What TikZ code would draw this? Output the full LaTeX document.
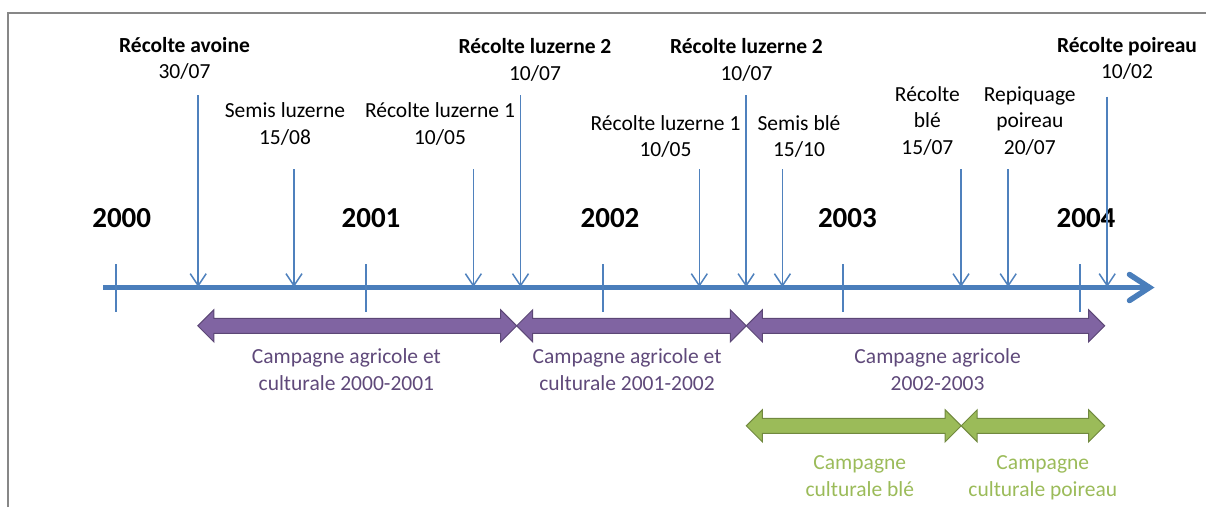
\documentclass[tikz,border=0pt]{standalone}
\usepackage{fontspec}
\setmainfont{Carlito}
\usetikzlibrary{arrows.meta}
\definecolor{axisblue}{HTML}{4A7EBB}
\definecolor{evblue}{HTML}{4F81BD}
\definecolor{purfill}{HTML}{8064A2}
\definecolor{purline}{HTML}{5C4776}
\definecolor{purtext}{HTML}{5F497A}
\definecolor{grfill}{HTML}{9BBB59}
\definecolor{grline}{HTML}{71893F}
\definecolor{grtext}{HTML}{9BBB59}
\definecolor{framegray}{HTML}{878787}
\newcommand\dblarrowshape[4]{% xL xR yc style
  \path[#4] (#1,#3) -- ++(16,-16) -- ++(0,8.5) -- (#2-16,#3-7.5) -- ++(0,-8.5)
    -- (#2,#3) -- (#2-16,#3+16) -- ++(0,-8.5) -- (#1+16,#3+7.5) -- ++(0,8.5) -- cycle;}
\begin{document}
\begin{tikzpicture}[x=1pt,y=-1pt,
  lbl/.style={align=center, inner sep=0pt, anchor=base, font=\fontsize{21.5}{26.7}\selectfont},
  yearlbl/.style={inner sep=0pt, anchor=base, font=\fontsize{29}{34}\selectfont\bfseries},
  purlbl/.style={lbl, text=purtext},
  grlbl/.style={lbl, text=grtext},
  evarrow/.style={evblue, line width=1.5pt, -{Straight Barb[length=12pt,width=16pt]}},
  tickline/.style={evblue, line width=1.5pt},
  axisline/.style={axisblue, line width=5.5pt, -{Straight Barb[length=20pt,width=26pt,line cap=round]}},
  purarrow/.style={fill=purfill, draw=purline, line width=1pt},
  grarrow/.style={fill=grfill, draw=grline, line width=1pt}]
\useasboundingbox (0,0) rectangle (1206,507);
% frame
\draw[framegray, line width=1.8pt] (7.7,507) -- (7.7,13.3) -- (1206,13.3);
% axis
\coordinate (axL) at (103,287.5);
\coordinate (axR) at (1154.5,287.5);
\draw[axisline] (axL) -- (axR);
% year ticks
\foreach \n/\x in {t0/116, t1/366, t2/603, t3/843, t4/1080}{
  \coordinate (\n a) at (\x,264);
  \coordinate (\n b) at (\x,311.5);
  \draw[tickline] (\n a) -- (\n b);
}
% year labels
\node[yearlbl] (y2000) at (121.7,227.7) {2000};
\node[yearlbl] (y2001) at (371,227.7) {2001};
\node[yearlbl] (y2002) at (610,227.7) {2002};
\node[yearlbl] (y2003) at (847.4,227.7) {2003};
\node[yearlbl] (y2004) at (1086,227.7) {2004};
% event labels (anchor = baseline of last line)
\node[lbl] (l1) at (184.5,78.7) {\textbf{Récolte avoine}\\30/07};
\node[lbl] (l2) at (285,144.4) {Semis luzerne\\15/08};
\node[lbl] (l3) at (440,144.4) {Récolte luzerne 1\\10/05};
\node[lbl] (l4) at (535,80.2) {\textbf{Récolte luzerne 2}\\10/07};
\node[lbl] (l5) at (665.5,156.7) {Récolte luzerne 1\\10/05};
\node[lbl] (l6) at (746.5,80.2) {\textbf{Récolte luzerne 2}\\10/07};
\node[lbl] (l7) at (799,156.7) {Semis blé\\15/10};
\node[lbl] (l8) at (927.4,154.4) {Récolte\\blé\\15/07};
\node[lbl] (l9) at (1029.8,154.4) {Repiquage\\poireau\\20/07};
\node[lbl] (l10) at (1127,78.7) {\textbf{Récolte poireau}\\10/02};
% event arrows
\foreach \n/\x/\y in {1/198.2/95, 2/294/169, 3/473.4/169, 4/520.5/95, 5/699.3/169,
                      6/746.1/95, 7/782.4/169, 8/961/169, 9/1008.2/169, 10/1107.2/96.7}{
  \coordinate (e\n s) at (\x,\y);
  \coordinate (e\n e) at (\x,287);
  \draw[evarrow] (e\n s) -- (e\n e);
}
% campaign arrows
\dblarrowshape{197.8}{516.7}{325.8}{purarrow}
\dblarrowshape{516.7}{746.3}{325.8}{purarrow}
\dblarrowshape{746.3}{1104.7}{325.8}{purarrow}
\dblarrowshape{746.3}{961.2}{425.8}{grarrow}
\dblarrowshape{961.2}{1104.7}{425.8}{grarrow}
% campaign labels
\node[purlbl] (c1) at (346.4,390.5) {Campagne agricole et\\culturale 2000-2001};
\node[purlbl] (c2) at (627,390.5) {Campagne agricole et\\culturale 2001-2002};
\node[purlbl] (c3) at (937.6,390.5) {Campagne agricole\\2002-2003};
\node[grlbl] (g1) at (859.8,496) {Campagne\\culturale blé};
\node[grlbl] (g2) at (1042.8,496) {Campagne\\culturale poireau};
\end{tikzpicture}
\end{document}
